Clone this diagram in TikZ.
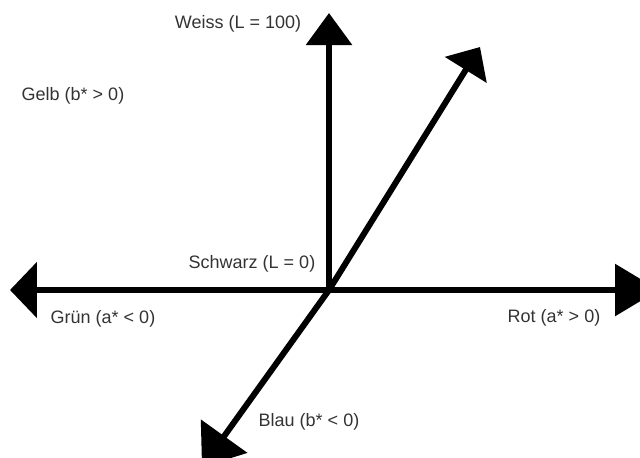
\documentclass[tikz,border=0pt]{standalone}
\usepackage{fontspec}
\setmainfont{Liberation Sans}
\usetikzlibrary{arrows.meta}

\begin{document}
\begin{tikzpicture}[x=0.5pt,y=0.5pt,
  achse/.style={line width=3pt,line cap=round},
  lab/.style={font=\fontsize{9}{11}\selectfont,text=black!80,inner sep=0pt}]
  \useasboundingbox (-329,-167) rectangle (311,290);
  \coordinate (O) at (0,0);
  \foreach \n/\x/\y/\len/\wid in {weiss/0/277/16pt/22.5pt,gelb/151/243/13.5pt/24pt,gruen/-319/0/13.5pt/27.5pt,rot/330/0/22pt/25.5pt,blau/-127/-177/19pt/28pt} {
    \coordinate (\n) at (\x,\y);
    \draw[achse,-{Triangle[length=\len,width=\wid]}] (O) -- (\n);
  }
  \node[lab] (weisslab) at (-91,266) {Weiss (L = 100)};
  \node[lab] (gelblab) at (-256,194) {Gelb (b* > 0)};
  \node[lab] (schwarzlab) at (-77,26) {Schwarz (L = 0)};
  \node[lab] (gruenlab) at (-226,-29) {Grün (a* < 0)};
  \node[lab] (rotlab) at (225,-28) {Rot (a* > 0)};
  \node[lab] (blaulab) at (-20,-132) {Blau (b* < 0)};
\end{tikzpicture}
\end{document}
